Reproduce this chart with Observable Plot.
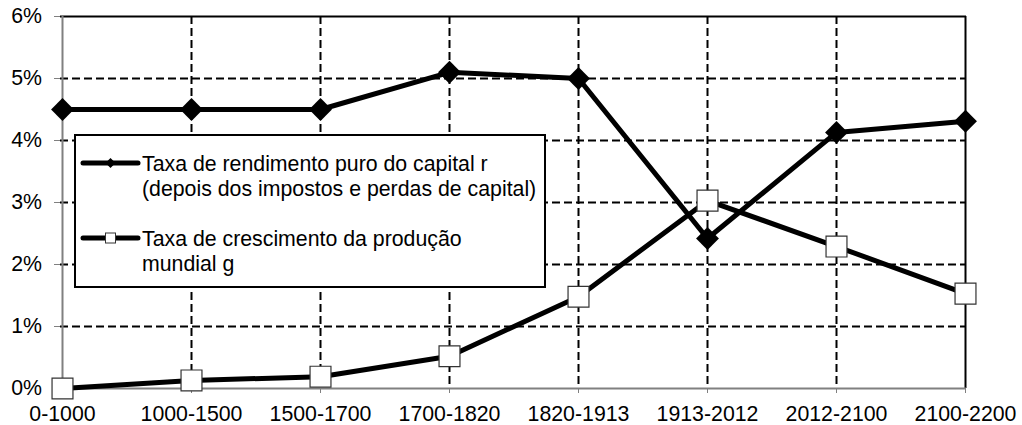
<!DOCTYPE html>
<html><head><meta charset="utf-8">
<script src="https://cdn.jsdelivr.net/npm/d3@7"></script>
<script src="https://cdn.jsdelivr.net/npm/@observablehq/plot@0.6"></script>
<style>body{margin:0;background:#fff}</style>
</head><body><div id="chart"></div>
<script>
const periods = ["0-1000","1000-1500","1500-1700","1700-1820","1820-1913","1913-2012","2012-2100","2100-2200"];
const rValues = [4.5, 4.5, 4.5, 5.1, 5.0, 2.42, 4.13, 4.31];
const gValues = [0, 0.13, 0.19, 0.52, 1.48, 3.03, 2.29, 1.53];
const yTicks = [0, 1, 2, 3, 4, 5, 6];
const rLabel = ["Taxa de rendimento puro do capital r", "(depois dos impostos e perdas de capital)"];
const gLabel = ["Taxa de crescimento da produção", "mundial g"];

const rData = periods.map((p, i) => ({period: p, value: rValues[i]}));
const gData = periods.map((p, i) => ({period: p, value: gValues[i]}));

const FONT = "'Liberation Sans', Arial, sans-serif";
const FS = 21.3;

function legend(index, scales, values, dimensions) {
  const g = d3.create("svg:g").attr("text-anchor", "start");
  const x0 = dimensions.marginLeft + 15, y0 = dimensions.marginTop + 119;
  const w = 470, h = 152;
  g.append("rect").attr("x", x0).attr("y", y0).attr("width", w).attr("height", h)
    .attr("fill", "white").attr("stroke", "black").attr("stroke-width", 2);
  const entries = [
    {label: rLabel, sym: "diamond", cy: y0 + 28},
    {label: gLabel, sym: "square", cy: y0 + 103}
  ];
  for (const e of entries) {
    g.append("line").attr("x1", x0 + 8).attr("x2", x0 + 63).attr("y1", e.cy).attr("y2", e.cy)
      .attr("stroke", "black").attr("stroke-width", 5).attr("stroke-linecap", "round");
    const cx = x0 + 35.5;
    if (e.sym === "diamond") {
      g.append("path").attr("d", `M${cx},${e.cy-5}L${cx+5},${e.cy}L${cx},${e.cy+5}L${cx-5},${e.cy}Z`).attr("fill", "black");
    } else {
      g.append("rect").attr("x", cx - 5).attr("y", e.cy - 5).attr("width", 10).attr("height", 10)
        .attr("fill", "white").attr("stroke", "#333").attr("stroke-width", 1);
    }
    e.label.forEach((t, j) => {
      g.append("text").attr("x", x0 + 67).attr("y", e.cy + 8 + j * 24.5)
        .attr("text-anchor", "start")
        .attr("font-family", FONT).attr("font-size", FS).attr("fill", "black").text(t);
    });
  }
  return g.node();
}

const chart = Plot.plot({
  width: 1022, height: 425,
  marginLeft: 60, marginRight: 56, marginTop: 16, marginBottom: 37,
  style: {fontFamily: FONT, fontSize: FS + "px", background: "white", color: "black"},
  x: {type: "point", domain: periods, padding: 0, label: null},
  y: {domain: [0, 6], label: null},
  marks: [
    Plot.ruleY([1, 2, 3, 4, 5], {stroke: "black", strokeWidth: 2, strokeDasharray: "8,4"}),
    Plot.ruleX(periods.slice(1, -1), {stroke: "black", strokeWidth: 2, strokeDasharray: "8,4"}),
    Plot.ruleY([6], {stroke: "black", strokeWidth: 2}),
    Plot.ruleX([periods[periods.length - 1]], {stroke: "black", strokeWidth: 2}),
    Plot.ruleX([periods[0]], {stroke: "#808080", strokeWidth: 2}),
    Plot.ruleY([0], {stroke: "#808080", strokeWidth: 2}),
    Plot.axisX({tickSize: 5, tickPadding: 12, stroke: "#808080", fill: "black", label: null}),
    Plot.axisY({ticks: yTicks, tickFormat: d => d + "%", tickSize: 6, tickPadding: 12.5, stroke: "#808080", fill: "black", label: null}),
    Plot.line(rData, {x: "period", y: "value", stroke: "black", strokeWidth: 5}),
    Plot.line(gData, {x: "period", y: "value", stroke: "black", strokeWidth: 5}),
    Plot.dot(rData, {x: "period", y: "value", symbol: "diamond2", r: 10.3, fill: "black", stroke: "none"}),
    Plot.dot(gData, {x: "period", y: "value", symbol: "square", r: 11.8, fill: "white", stroke: "#333", strokeWidth: 1.2}),
    legend
  ]
});
document.getElementById("chart").appendChild(chart);
</script>
</body></html>
